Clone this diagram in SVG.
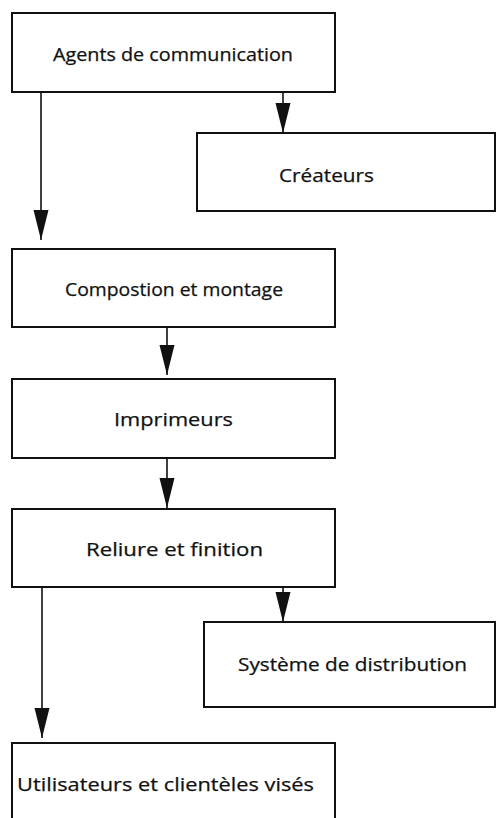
<svg xmlns="http://www.w3.org/2000/svg" width="496" height="818" viewBox="0 0 496 818">
<style>
.box{fill:#fff;stroke:#111;stroke-width:2}
.lbl{font-family:"Open Sans","Noto Sans","Liberation Sans",sans-serif;font-size:18.5px;fill:#111;stroke:#111;stroke-width:0.25}
.conn{stroke:#111;stroke-width:1.6;fill:none}
</style>
<defs>
<marker id="ah" markerUnits="userSpaceOnUse" markerWidth="32" markerHeight="16" refX="30" refY="7.5" orient="auto">
<path d="M0,0 L30,7.5 L0,15 z" fill="#111"/>
</marker>
</defs>
<rect width="496" height="818" fill="#fff"/>
<g id="connectors">
<line class="conn" x1="283" y1="92" x2="283" y2="133" marker-end="url(#ah)"/>
<line class="conn" x1="41" y1="92" x2="41" y2="240" marker-end="url(#ah)"/>
<line class="conn" x1="167" y1="327" x2="167" y2="375" marker-end="url(#ah)"/>
<line class="conn" x1="167" y1="458" x2="167" y2="508" marker-end="url(#ah)"/>
<line class="conn" x1="42" y1="587" x2="42" y2="738" marker-end="url(#ah)"/>
<line class="conn" x1="283" y1="587" x2="283" y2="622" marker-end="url(#ah)"/>
</g>
<g id="agents">
<rect class="box" x="12" y="13" width="323" height="79"/>
<text class="lbl" x="53" y="61" textLength="240" lengthAdjust="spacingAndGlyphs">Agents de communication</text>
</g>
<g id="createurs">
<rect class="box" x="197" y="133" width="298" height="78"/>
<text class="lbl" x="279" y="182" textLength="95" lengthAdjust="spacingAndGlyphs">Créateurs</text>
</g>
<g id="composition">
<rect class="box" x="12" y="249" width="323" height="78"/>
<text class="lbl" x="65" y="296" textLength="218" lengthAdjust="spacingAndGlyphs">Compostion et montage</text>
</g>
<g id="imprimeurs">
<rect class="box" x="12" y="379" width="323" height="79"/>
<text class="lbl" x="114" y="426" textLength="119" lengthAdjust="spacingAndGlyphs">Imprimeurs</text>
</g>
<g id="reliure">
<rect class="box" x="12" y="509" width="323" height="78"/>
<text class="lbl" x="86" y="556" textLength="177" lengthAdjust="spacingAndGlyphs">Reliure et finition</text>
</g>
<g id="distribution">
<rect class="box" x="204" y="622" width="291" height="85"/>
<text class="lbl" x="238" y="671" textLength="229" lengthAdjust="spacingAndGlyphs">Système de distribution</text>
</g>
<g id="utilisateurs">
<rect class="box" x="12" y="743" width="323" height="90"/>
<text class="lbl" x="17" y="791" textLength="297" lengthAdjust="spacingAndGlyphs">Utilisateurs et clientèles visés</text>
</g>
</svg>
